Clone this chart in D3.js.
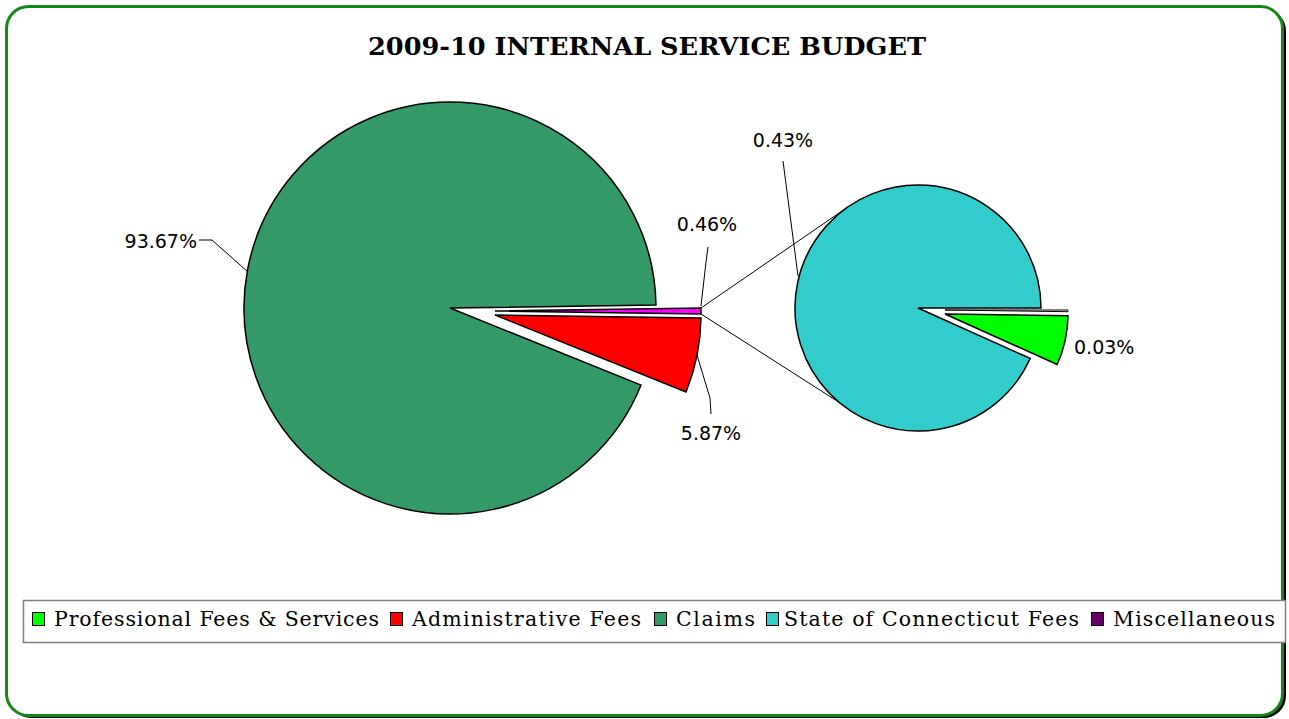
<!DOCTYPE html>
<html>
<head>
<meta charset="utf-8">
<script src="https://cdn.jsdelivr.net/npm/d3@7"></script>
<style>
  html, body { margin: 0; padding: 0; background: #ffffff; }
  svg { display: block; }
</style>
</head>
<body>
<svg id="chart" width="1289" height="719"></svg>
<script>
// ---------------- DATA ----------------
const title = "2009-10 INTERNAL SERVICE BUDGET";
const categories = ["Professional Fees & Services", "Administrative Fees", "Claims", "State of Connecticut Fees", "Miscellaneous"];
const values = [0.03, 5.87, 93.67, 0.43, 0.001];
const colors = ["#00FF00", "#FF0000", "#339966", "#33CCCC", "#660066"];
const otherColor = "#FF00FF";
// split: which categories go to the secondary pie (in drawing order)
const mainOrder = ["Administrative Fees", "Claims"];
const secondOrder = ["Miscellaneous", "Professional Fees & Services", "State of Connecticut Fees"];
const labelText = {"Claims": "93.67%", "Administrative Fees": "5.87%", "Other": "0.46%",
                   "State of Connecticut Fees": "0.43%", "Professional Fees & Services": "0.03%"};

// ---------------- LAYOUT ----------------
const svg = d3.select("#chart");
const valOf = name => values[categories.indexOf(name)];
const colOf = name => name === "Other" ? otherColor : colors[categories.indexOf(name)];
const otherValue = d3.sum(secondOrder, valOf);

// outer frame with shadow
svg.append("rect").attr("x", 9).attr("y", 9).attr("width", 1277).attr("height", 709)
  .attr("rx", 22).attr("ry", 22).attr("fill", "#000");
svg.append("rect").attr("x", 6.5).attr("y", 6.5).attr("width", 1276).attr("height", 709)
  .attr("rx", 22).attr("ry", 22).attr("fill", "#fff").attr("stroke", "#138A13").attr("stroke-width", 3);

// title
svg.append("text").attr("x", 647).attr("y", 55).attr("text-anchor", "middle")
  .attr("font-family", "'DejaVu Serif', serif").attr("font-weight", "bold").attr("font-size", 24)
  .attr("textLength", 558).attr("lengthAdjust", "spacingAndGlyphs")
  .text(title);

// ---------------- MAIN PIE ----------------
const cx1 = 450, cy1 = 308, r1 = 206;
const mainData = mainOrder.map(n => ({name: n, value: valOf(n)})).concat([{name: "Other", value: otherValue}]);
const total1 = d3.sum(mainData, d => d.value);
const otherAng = 2 * Math.PI * otherValue / total1;
const pie1 = d3.pie().sort(null).value(d => d.value)
  .startAngle(Math.PI / 2 + otherAng / 2).endAngle(Math.PI / 2 + otherAng / 2 + 2 * Math.PI);
const arc1 = d3.arc().innerRadius(0).outerRadius(r1);
const explode1 = {"Administrative Fees": [45, 7], "Other": [45, 3]};
const g1 = svg.append("g").attr("transform", `translate(${cx1},${cy1})`);
const arcs1 = pie1(mainData);
g1.selectAll("path").data(arcs1).join("path")
  .attr("d", arc1)
  .attr("transform", d => explode1[d.data.name] ? `translate(${explode1[d.data.name][0]},${explode1[d.data.name][1]})` : null)
  .attr("fill", d => colOf(d.data.name))
  .attr("stroke", "#000").attr("stroke-width", 1.5).attr("stroke-linejoin", "miter");

// ---------------- SECOND PIE ----------------
const cx2 = 918, cy2 = 308, r2 = 123;
const secData = secondOrder.map(n => ({name: n, value: valOf(n)}));
const pie2 = d3.pie().sort(null).value(d => d.value)
  .startAngle(Math.PI / 2).endAngle(Math.PI / 2 + 2 * Math.PI);
const arc2 = d3.arc().innerRadius(0).outerRadius(r2);
const explode2 = {"Professional Fees & Services": [27, 6], "Miscellaneous": [27, 2]};
const g2 = svg.append("g").attr("transform", `translate(${cx2},${cy2})`);
const arcs2 = pie2(secData);
g2.selectAll("path").data(arcs2).join("path")
  .attr("d", arc2)
  .attr("transform", d => explode2[d.data.name] ? `translate(${explode2[d.data.name][0]},${explode2[d.data.name][1]})` : null)
  .attr("fill", d => d.data.name === "Miscellaneous" ? "#fff" : colOf(d.data.name))
  .attr("stroke", "#000").attr("stroke-width", d => d.data.name === "Miscellaneous" ? 1 : 1.5);

// ---------------- CONNECTORS ----------------
const otherArc = arcs1.find(d => d.data.name === "Other");
const ex = explode1["Other"];
const pt = (a, r, cx, cy, dx, dy) => [cx + dx + r * Math.sin(a), cy + dy - r * Math.cos(a)];
const pTop = pt(otherArc.startAngle, r1, cx1, cy1, ex[0], ex[1]);
const pBot = pt(otherArc.endAngle, r1, cx1, cy1, ex[0], ex[1]);
const deg = Math.PI / 180;
const qTop = [cx2 + r2 * Math.cos(236 * deg), cy2 + r2 * Math.sin(236 * deg)];
const qBot = [cx2 + r2 * Math.cos(130 * deg), cy2 + r2 * Math.sin(130 * deg)];
svg.append("line").attr("x1", pTop[0]).attr("y1", pTop[1]).attr("x2", qTop[0]).attr("y2", qTop[1])
  .attr("stroke", "#000").attr("stroke-width", 1);
svg.append("line").attr("x1", pBot[0]).attr("y1", pBot[1]).attr("x2", qBot[0]).attr("y2", qBot[1])
  .attr("stroke", "#000").attr("stroke-width", 1);

// ---------------- DATA LABELS ----------------
const lblFont = "'DejaVu Sans', sans-serif";
const labels = [
  {key: "Claims", x: 197, y: 248, anchor: "end", leader: [[199, 240], [212, 240], [248, 272]]},
  {key: "Other", x: 707, y: 231, anchor: "middle", leader: [[708, 247], [706, 262], [701, 306]]},
  {key: "Administrative Fees", x: 711, y: 440, anchor: "middle", leader: [[697, 355], [710, 398], [711, 414]]},
  {key: "State of Connecticut Fees", x: 783, y: 147, anchor: "middle", leader: [[783, 161], [798, 276]]},
  {key: "Professional Fees & Services", x: 1074, y: 354, anchor: "start", leader: null}
];
labels.forEach(l => {
  svg.append("text").attr("x", l.x).attr("y", l.y).attr("text-anchor", l.anchor)
    .attr("font-family", lblFont).attr("font-size", 19).attr("fill", "#000")
    .text(labelText[l.key]);
  if (l.leader) {
    svg.append("path").attr("d", d3.line()(l.leader)).attr("fill", "none")
      .attr("stroke", "#000").attr("stroke-width", 1);
  }
});

// ---------------- LEGEND ----------------
svg.append("rect").attr("x", 23.5).attr("y", 600.5).attr("width", 1262).attr("height", 42)
  .attr("fill", "#fff").attr("stroke", "#7f7f7f").attr("stroke-width", 1.5);
const legendX = [32, 390, 654, 766, 1091];
const legendTextX = [54, 412, 676, 784, 1113];
const legendW = [325, 229, 79, 295, 162];
categories.forEach((c, i) => {
  svg.append("rect").attr("x", legendX[i] + 0.5).attr("y", 612.5).attr("width", 12).attr("height", 13)
    .attr("fill", colors[i]).attr("stroke", "#000").attr("stroke-width", 1);
  svg.append("text").attr("x", legendTextX[i]).attr("y", 626)
    .attr("font-family", "'DejaVu Serif', serif").attr("font-size", 20.5).attr("fill", "#000")
    .attr("textLength", legendW[i]).attr("lengthAdjust", "spacing")
    .text(c);
});
</script>
</body>
</html>
